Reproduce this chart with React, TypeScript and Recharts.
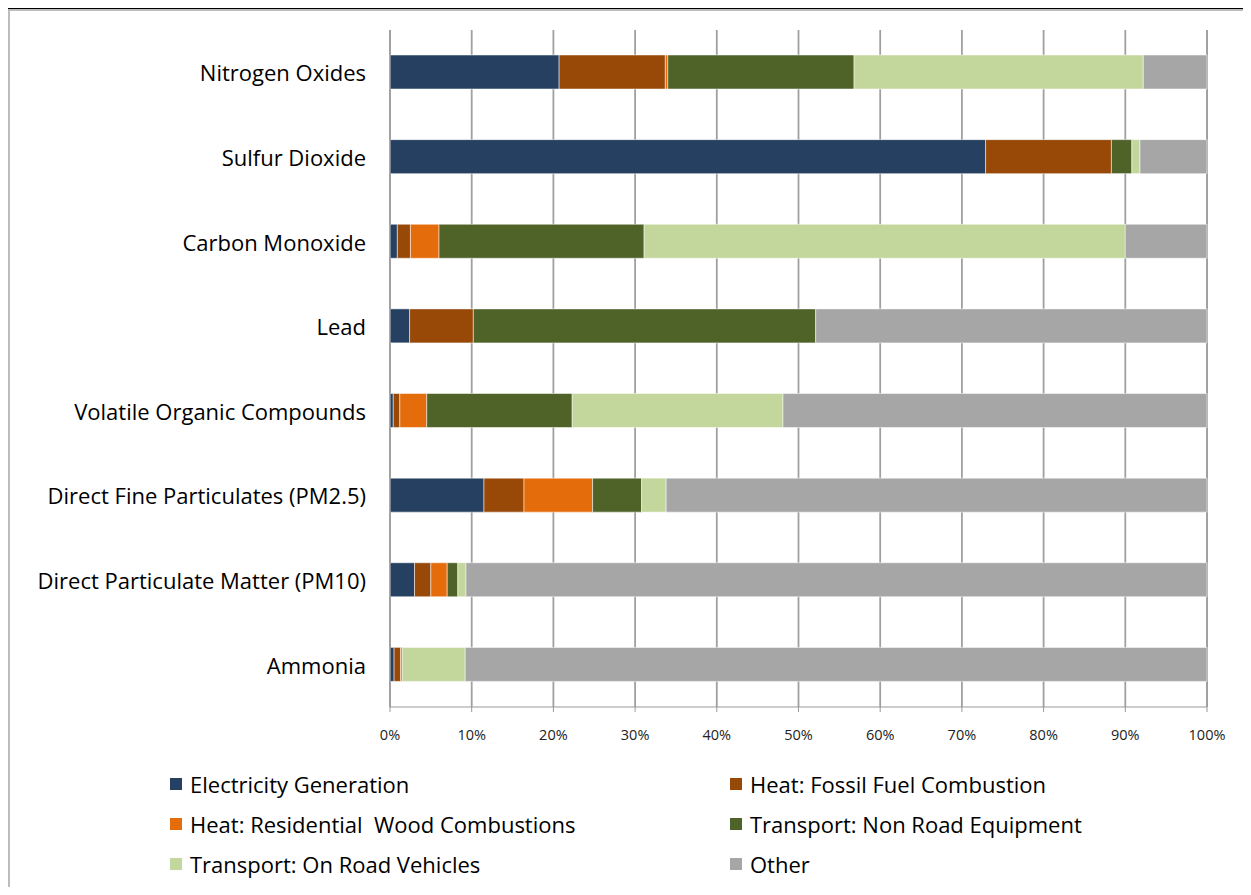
import React from "react";
import { BarChart, Bar, XAxis, YAxis, CartesianGrid } from "recharts";

const categories = [
    "Nitrogen Oxides",
    "Sulfur Dioxide",
    "Carbon Monoxide",
    "Lead",
    "Volatile Organic Compounds",
    "Direct Fine Particulates (PM2.5)",
    "Direct Particulate Matter (PM10)",
    "Ammonia",
];

const electricity = [20.7, 72.9, 0.9, 2.4, 0.4, 11.5, 3.0, 0.5];
const fossilFuel = [13.0, 15.4, 1.6, 7.8, 0.8, 4.9, 2.0, 0.8];
const woodBurning = [0.3, 0, 3.5, 0, 3.3, 8.4, 2.0, 0.2];
const nonRoad = [22.8, 2.5, 25.1, 41.9, 17.8, 6.0, 1.3, 0];
const onRoad = [35.4, 1.0, 58.9, 0, 25.8, 3.0, 1.0, 7.7];
const other = [7.8, 8.2, 10.0, 47.9, 51.9, 66.2, 90.7, 90.8];

const xTicks = [0, 10, 20, 30, 40, 50, 60, 70, 80, 90, 100];
const bandEdges = [0, 1, 2, 3, 4, 5, 6, 7, 8];

const series = [
    { key: "electricity", name: "Electricity Generation", color: "#264061", values: electricity },
    { key: "fossil", name: "Heat: Fossil Fuel Combustion", color: "#984807", values: fossilFuel },
    { key: "wood", name: "Heat: Residential  Wood Combustions", color: "#E46C0A", values: woodBurning },
    { key: "nonRoad", name: "Transport: Non Road Equipment", color: "#4F6228", values: nonRoad },
    { key: "onRoad", name: "Transport: On Road Vehicles", color: "#C3D69B", values: onRoad },
    { key: "other", name: "Other", color: "#A6A6A6", values: other },
];

const data = categories.map((name, i) => {
    const row: Record<string, string | number> = { name };
    series.forEach((s) => {
        row[s.key] = s.values[i];
    });
    return row;
});

const FONT = "'Open Sans', Lato, sans-serif";

const CategoryTick = (props: any) => {
    const { x, y, payload } = props;
    return (
        <text x={x} y={y} textAnchor="end" dominantBaseline="central" fontSize={22} fill="#000" fontFamily={FONT}>
            {payload.value}
        </text>
    );
};

export default function App() {
    // legend laid out in two columns, three rows
    const legendRows = [0, 1, 2].map((r) => series.slice(r * 2, r * 2 + 2));

    return (
        <div style={{ position: "relative", width: 1251, height: 895, margin: -8, overflow: "hidden", background: "#fff" }}>
            <div
                style={{
                    position: "absolute",
                    left: 7,
                    top: 8,
                    width: 1241,
                    height: 900,
                    border: "1px solid #000",
                    boxShadow: "inset 0 0 0 2px #BDBDBD",
                }}
            />
            <div style={{ position: "absolute", left: 0, top: 0 }}>
                <BarChart
                    width={1251}
                    height={760}
                    data={data}
                    layout="vertical"
                    barSize={34}
                    margin={{ top: 30, right: 44, bottom: 13, left: 0 }}
                >
                    <CartesianGrid horizontal={false} stroke="#A0A0A0" strokeWidth={1.8} />
                    <XAxis
                        type="number"
                        domain={[0, 100]}
                        ticks={xTicks}
                        tickFormatter={(v) => `${v}%`}
                        height={40}
                        stroke="#999"
                        tickSize={5}
                        tickMargin={18}
                        tick={{ fill: "#222", fontSize: 14.5, fontFamily: FONT }}
                        interval={0}
                    />
                    <YAxis
                        yAxisId="bounds"
                        type="number"
                        domain={[0, 8]}
                        ticks={bandEdges}
                        interval={0}
                        width={1}
                        tickSize={7}
                        tick={false}
                        stroke="#999"
                    />
                    <YAxis
                        yAxisId="cat"
                        type="category"
                        dataKey="name"
                        width={389}
                        axisLine={false}
                        tickLine={false}
                        tickSize={0}
                        tickMargin={23}
                        interval={0}
                        tick={<CategoryTick />}
                    />
                    {series.map((s) => (
                        <Bar
                            key={s.key}
                            yAxisId="cat"
                            dataKey={s.key}
                            name={s.name}
                            stackId="a"
                            fill={s.color}
                            stroke="#ffffff"
                            strokeOpacity={0.5}
                            strokeWidth={1}
                            isAnimationActive={false}
                        />
                    ))}
                </BarChart>
            </div>
            <div style={{ position: "absolute", left: 170, top: 764, fontFamily: FONT, fontSize: 22, color: "#000" }}>
                {legendRows.map((row, r) => (
                    <div key={r} style={{ display: "flex", height: 40, alignItems: "center" }}>
                        {row.map((s) => (
                            <div key={s.key} style={{ display: "flex", alignItems: "center", width: 560 }}>
                                <span style={{ display: "inline-block", width: 12, height: 12, background: s.color, marginRight: 8 }} />
                                <span style={{ whiteSpace: "pre" }}>{s.name}</span>
                            </div>
                        ))}
                    </div>
                ))}
            </div>
        </div>
    );
}
